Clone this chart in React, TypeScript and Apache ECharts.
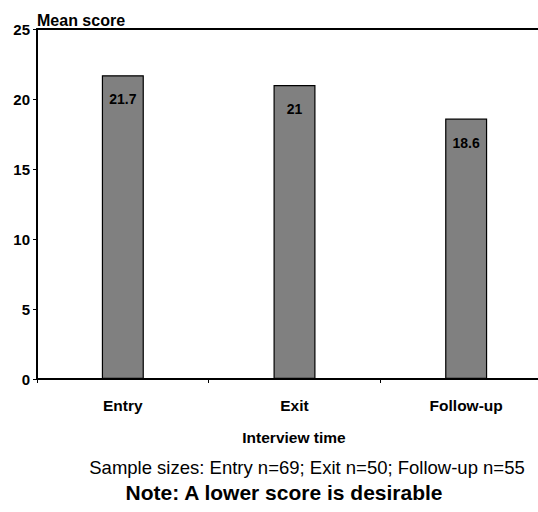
import React, { useEffect, useRef } from "react";
import * as echarts from "echarts";

const categories = ["Entry", "Exit", "Follow-up"];
const meanScores = [21.7, 21, 18.6];
const yTicks = { min: 0, max: 25, interval: 5 };
const yAxisTitle = "Mean score";
const xAxisTitle = "Interview time";
const sampleNote = "Sample sizes: Entry n=69; Exit n=50; Follow-up n=55";
const footNote = "Note: A lower score is desirable";

const FONT = "'Liberation Sans', Arial, sans-serif";

export default function App() {
  const ref = useRef<HTMLDivElement>(null);
  useEffect(() => {
    document.body.style.margin = "0";
    const chart = echarts.init(ref.current!, null, { renderer: "svg" });
    chart.setOption({
      animation: false,
      backgroundColor: "#ffffff",
      textStyle: { fontFamily: FONT },
      grid: {
        left: 37,
        top: 29,
        width: 515,
        height: 350,
        outerBoundsMode: "none",
        containLabel: false,
        show: false,
      },
      xAxis: [
        {
          type: "category",
          data: categories,
          axisLine: { lineStyle: { color: "#000", width: 2 } },
          axisTick: { show: true, length: 4, lineStyle: { color: "#000", width: 1 } },
          axisLabel: { color: "#000", fontWeight: "bold", fontSize: 15.5, fontFamily: FONT, margin: 18 },
          splitLine: { show: false },
        },
        {
          type: "category",
          data: categories,
          position: "top",
          axisLine: { show: true, lineStyle: { color: "#000", width: 2 } },
          axisTick: { show: false },
          axisLabel: { show: false },
          splitLine: { show: false },
        },
      ],
      yAxis: {
        type: "value",
        min: yTicks.min,
        max: yTicks.max,
        interval: yTicks.interval,
        axisLine: { show: true, lineStyle: { color: "#000", width: 2 } },
        axisTick: { show: true, length: 4, lineStyle: { color: "#000", width: 1 } },
        axisLabel: { color: "#000", fontWeight: "bold", fontSize: 15, fontFamily: FONT, margin: 7 },
        splitLine: { show: false },
      },
      series: [
        {
          type: "bar",
          data: meanScores,
          barWidth: 42,
          itemStyle: { color: "#808080", borderColor: "#000", borderWidth: 1.2 },
          label: {
            show: true,
            position: "insideTop",
            distance: 17,
            color: "#000",
            fontWeight: "bold",
            fontSize: 14,
            fontFamily: FONT,
          },
        },
      ],
      graphic: [
        {
          type: "text",
          left: 37,
          top: 12,
          style: { text: yAxisTitle, fill: "#000", font: `bold 16px ${FONT}` },
        },
        {
          type: "text",
          x: 294,
          y: 437,
          style: { text: xAxisTitle, fill: "#000", font: `bold 15.5px ${FONT}`, align: "center", verticalAlign: "middle" },
        },
        {
          type: "text",
          x: 307,
          y: 467,
          style: { text: sampleNote, fill: "#000", font: `18.5px ${FONT}`, align: "center", verticalAlign: "middle" },
        },
        {
          type: "text",
          x: 284,
          y: 492,
          style: { text: footNote, fill: "#000", font: `bold 21px ${FONT}`, align: "center", verticalAlign: "middle" },
        },
      ],
    });
    return () => chart.dispose();
  }, []);
  return <div ref={ref} style={{ width: 538, height: 512 }} />;
}
